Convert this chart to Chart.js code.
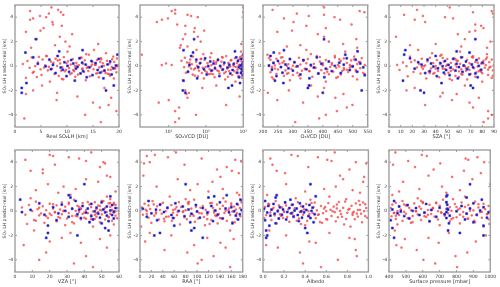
<!DOCTYPE html>
<html>
<head>
<meta charset="utf-8">
<script src="https://cdn.jsdelivr.net/npm/chart.js@4.4.1/dist/chart.umd.min.js"></script>
<style>
  html, body { margin: 0; padding: 0; background: #fff; }
  body { width: 500px; height: 287px; position: relative; overflow: hidden; }
  .panel { position: absolute; }
</style>
</head>
<body>
<div id="grid"></div>
<script>
// ---- data (same samples in every panel, y = predicted - real) ----
const redY = [
  4.8, 4.6, 4.5, 4.4, 4.3, 4.2, 4.1, 4.0, 3.9, 3.8, 3.6, 3.4, 3.3, 3.1, 2.9, 2.8, 2.6, 2.4, 2.2, 2.0, 1.8, 1.7, 1.6, 1.5,
  -1.6, -1.8, -2.0, -2.2, -2.3, -2.5, -2.6, -2.8, -3.0, -3.2, -3.4, -3.7, -4.0, -4.3, -4.6,
  0.93, 0.81, 0.77, 0.72, 0.7, 0.68, 0.64, 0.6, 0.62, 0.57,
  0.53, 0.49, 0.51, 0.46, 0.41, 0.43, 0.38, 0.34, 0.36, 0.31,
  0.29, 0.26, 0.22, 0.24, 0.2, 0.16, 0.18, 0.14, 0.1, 0.12,
  0.08, 0.05, 0.06, 0.02, 0.0, -0.02, -0.04, -0.01, -0.08, -0.06,
  -0.12, -0.1, -0.16, -0.14, -0.2, -0.18, -0.22, -0.27, -0.24, -0.3,
  -0.28, -0.34, -0.32, -0.38, -0.41, -0.36, -0.46, -0.44, -0.52, -0.49,
  -0.55, -0.6, -0.57, -0.65, -0.62, -0.7, -0.74, -0.68, -0.81, -0.85,
  -0.88, -0.93, -0.97, -1.02, -1.1, -1.17, -1.28, 1.04, 1.18, 1.32,
  0.74, 0.66, 0.55, 0.45, 0.33, 0.27, 0.11, 0.03, -0.03, -0.13,
  -0.21, -0.31, -0.39, -0.47, -0.58, -0.67, -0.79, 0.83, 0.69, 0.54,
  0.21, -0.07, -0.17, -0.25, -0.43, -0.63, -0.91, 0.97, -1.06, 0.09
];
const blueY = [
  2.2, 1.3, 1.2, 1.1, -1.2, -1.4, -1.6, -1.8, -2.0, -2.2,
  0.82, 0.71, 0.63, 0.58, 0.49, 0.52, 0.41, 0.37, 0.31, 0.27,
  0.24, 0.18, 0.2, 0.13, 0.09, 0.11, 0.04, 0.01, -0.02, -0.05,
  -0.09, -0.13, -0.11, -0.19, -0.22, -0.26, -0.33, -0.31, -0.42, -0.38,
  -0.48, -0.55, -0.61, -0.58, -0.69, -0.75, -0.83, -0.92, -1.01, 0.93
];

// x values per panel, same order as redY / blueY
const redRealLH = [
  7.0, 8.3, 2.9, 8.8, 6.5, 9.3, 4.8, 6.0, 3.5, 2.9, 7.2, 7.3, 9.0, 5.5, 4.9, 2.1, 11.0, 8.6, 4.2, 9.7, 16.0, 7.7, 10.5, 3.1,
  5.2, 17.2, 3.5, 8.1, 2.1, 12.0, 18.5, 8.0, 15.0, 18.0, 16.3, 19.5, 13.5, 1.8, 16.5,
  14.2, 6.1, 18.9, 9.4, 3.2, 12.7, 16.5, 7.8, 19.6, 11.1,
  5.3, 15.8, 8.6, 13.4, 2.4, 17.7, 10.2, 19.1, 6.9, 14.9,
  4.4, 11.8, 16.9, 9.9, 18.2, 1.5, 13.1, 7.3, 15.4, 10.7,
  19.8, 5.8, 12.3, 17.1, 8.1, 3.9, 14.6, 11.5, 18.6, 6.5,
  16.2, 9.1, 13.8, 2.8, 19.3, 10.4, 7.1, 15.1, 12.9, 17.9,
  4.9, 11.2, 18.4, 8.9, 14.1, 6.3, 16.7, 9.6, 19.5, 13.3,
  3.4, 10.9, 17.4, 7.6, 15.6, 12.1, 5.1, 18.1, 8.4, 14.4,
  11.6, 16.1, 2.1, 19.0, 9.3, 13.6, 6.7, 17.5, 10.1, 15.2,
  4.6, 12.5, 18.7, 8.2, 16.4, 7.4, 14.8, 11.9, 19.7, 5.6,
  13.0, 9.8, 17.2, 3.6, 15.9, 10.6, 18.3, 6.0, 12.8, 16.6,
  8.7, 14.0, 19.2, 7.0, 11.4, 17.8, 4.2, 13.7, 9.0, 15.5
];
const redSO2 = [
  1000, 15, 12, 1000, 15, 32, 40, 60, 9.5, 6.6, 4.8, 17, 28, 50, 90, 48, 28, 60, 24, 72, 890, 21, 32, 20,
  190, 80, 28, 35, 30, 800, 32, 10, 5.4, 350, 19, 15, 54, 19, 15,
  1.9, 350, 45, 820, 130, 27, 600, 75, 960, 210,
  38, 480, 92, 720, 160, 22, 900, 55, 260, 1000,
  31, 400, 110, 680, 68, 950, 185, 42, 540, 300,
  6.5, 760, 140, 58, 880, 240, 35, 450, 98, 640,
  175, 26, 990, 82, 370, 52, 830, 125, 290, 700,
  48, 150, 920, 65, 420, 200, 33, 580, 105, 860,
  29, 310, 78, 980, 230, 44, 510, 120, 750, 61,
  390, 170, 940, 88, 330, 24, 620, 140, 870, 56,
  270, 995, 72, 460, 190, 36, 800, 115, 560, 250,
  40, 930, 95, 340, 660, 155, 50, 910, 280, 780,
  8.5, 430, 62, 970, 220, 135, 740, 85, 1.6, 12
];
const redO3 = [
  404, 232, 523, 539, 313, 404, 353, 439, 270, 458, 302, 496, 345, 410, 297, 248, 383, 404, 512, 420, 468, 325, 280, 515,
  361, 404, 286, 216, 469, 383, 442, 248, 334, 499, 480, 447, 410, 388, 308,
  215, 380, 505, 265, 440, 320, 530, 245, 470, 350,
  290, 410, 225, 495, 335, 460, 270, 520, 390, 305,
  235, 480, 345, 430, 255, 515, 370, 285, 450, 325,
  540, 240, 400, 500, 280, 360, 455, 220, 425, 310,
  490, 260, 375, 445, 230, 525, 340, 415, 295, 470,
  250, 395, 510, 330, 465, 275, 435, 355, 225, 485,
  315, 405, 535, 245, 385, 460, 300, 420, 270, 500,
  365, 230, 445, 325, 515, 290, 410, 255, 475, 345,
  390, 220, 455, 335, 525, 265, 430, 300, 495, 375,
  240, 480, 355, 415, 285, 540, 320, 440, 260, 505,
  400, 230, 470, 340, 510, 280, 450, 360, 235, 490
];
const redSZA = [
  52, 24, 88, 72, 89, 13, 29, 48, 55, 22, 31, 74, 79, 81, 74, 69, 59, 6, 65, 87, 40, 18, 62, 84,
  65, 22, 15, 46, 58, 44, 77, 54, 69, 31, 72, 85, 88, 85, 81,
  45, 72, 18, 63, 84, 35, 56, 28, 77, 50,
  88, 41, 67, 22, 59, 81, 33, 74, 47, 86,
  12, 53, 69, 38, 79, 26, 61, 44, 90, 57,
  71, 31, 83, 49, 65, 15, 76, 40, 58, 87,
  24, 68, 52, 82, 36, 73, 46, 62, 29, 85,
  55, 78, 9, 66, 42, 89, 34, 60, 75, 21,
  51, 80, 39, 70, 27, 63, 85, 48, 57, 16,
  74, 43, 88, 32, 67, 54, 80, 37, 61, 25,
  71, 46, 83, 58, 19, 76, 50, 64, 30, 86,
  40, 69, 53, 79, 35, 62, 89, 44, 72, 57,
  81, 28, 66, 48, 77, 38, 60, 84, 52, 7
];
const redVZA = [
  44, 20, 22, 31, 37, 6, 41, 51, 52, 23, 49, 16, 9, 16, 53, 55, 41, 48, 19, 28, 35, 12, 58, 25,
  11, 32, 55, 27, 49, 20, 38, 5, 53, 60, 18, 41, 14, 34, 45,
  34, 51, 12, 46, 27, 57, 39, 20, 54, 31,
  43, 8, 58, 24, 49, 36, 16, 55, 29, 44,
  4, 52, 33, 59, 22, 47, 38, 13, 56, 26,
  41, 50, 18, 35, 60, 28, 45, 10, 53, 37,
  23, 48, 31, 57, 15, 42, 55, 27, 39, 6,
  50, 21, 44, 58, 33, 14, 47, 36, 54, 25,
  40, 59, 19, 46, 30, 52, 11, 38, 56, 24,
  43, 49, 17, 34, 57, 29, 45, 9, 53, 32,
  42, 55, 22, 48, 37, 14, 51, 28, 58, 40,
  20, 46, 35, 54, 26, 44, 12, 50, 31, 57,
  38, 23, 47, 60, 18, 41, 33, 55, 7, 49
];
const redRAA = [
  63, 26, 12, 49, 108, 167, 177, 17, 7, 78, 152, 135, 161, 173, 6, 141, 66, 127, 101, 29, 145, 88, 120, 170,
  158, 17, 55, 118, 164, 9, 141, 95, 150, 43, 83, 129, 108, 101, 158,
  95, 22, 150, 68, 178, 40, 123, 8, 160, 85,
  135, 55, 172, 15, 110, 145, 30, 98, 165, 72,
  3, 128, 48, 175, 90, 18, 140, 62, 115, 168,
  35, 155, 80, 130, 12, 100, 162, 45, 120, 75,
  180, 28, 148, 58, 108, 170, 38, 92, 138, 5,
  118, 65, 158, 25, 88, 132, 50, 176, 78, 112,
  15, 142, 60, 170, 102, 33, 125, 82, 152, 43,
  96, 166, 20, 136, 70, 114, 2, 146, 52, 174,
  86, 126, 36, 160, 64, 106, 10, 150, 76, 130,
  28, 168, 94, 46, 140, 118, 56, 178, 84, 24,
  156, 66, 104, 12, 134, 42, 162, 80, 122, 58
];
const redAlbedo = [
  0.68, 0.27, 0.33, 0.52, 0.07, 0.61, 0.65, 0.88, 0.98, 0.09, 0.43, 0.82, 0.13, 0.21, 0.73, 0.96, 0.76, 0.95, 0.22, 0.69, 0.58, 0.85, 0.4, 0.92,
  0.06, 0.63, 0.22, 0.82, 0.87, 0.44, 0.5, 0.03, 0.14, 0.88, 0.35, 0.89, 0.71, 0.38, 0.55,
  0.45, 0.12, 0.78, 0.33, 0.95, 0.21, 0.62, 0.05, 0.88, 0.41,
  0.7, 0.27, 0.92, 0.15, 0.55, 0.84, 0.36, 0.02, 0.67, 0.48,
  0.18, 0.76, 0.3, 0.98, 0.58, 0.09, 0.82, 0.39, 0.64, 0.24,
  0.9, 0.51, 0.14, 0.73, 0.43, 0.96, 0.2, 0.6, 0.35, 0.86,
  0.07, 0.68, 0.47, 0.8, 0.26, 0.57, 0.93, 0.16, 0.74, 0.38,
  0.53, 0.03, 0.85, 0.29, 0.65, 0.11, 0.9, 0.44, 0.71, 0.23,
  0.99, 0.5, 0.19, 0.79, 0.34, 0.61, 0.08, 0.87, 0.42, 0.69,
  0.25, 0.94, 0.56, 0.13, 0.77, 0.4, 0.83, 0.31, 0.63, 0.04,
  0.72, 0.46, 0.97, 0.22, 0.59, 0.1, 0.81, 0.37, 0.66, 0.28,
  0.89, 0.52, 0.17, 0.75, 0.01, 0.6, 0.32, 0.91, 0.49, 0.06,
  0.7, 0.2, 0.85, 0.44, 0.97, 0.15, 0.54, 0.79, 0.36, 0.92
];
const redPressure = [
  438, 594, 624, 924, 854, 870, 514, 964, 704, 424, 554, 664, 844, 944, 634, 774, 894, 484, 1000, 714, 580, 820, 460, 740,
  434, 754, 974, 634, 494, 914, 694, 444, 474, 564, 864, 794, 604, 674, 804,
  720, 480, 910, 600, 830, 440, 680, 960, 550, 790,
  420, 870, 640, 510, 990, 700, 460, 850, 580, 760,
  930, 520, 660, 410, 880, 740, 590, 970, 470, 810,
  630, 900, 530, 770, 450, 690, 1000, 560, 840, 490,
  710, 940, 610, 430, 860, 750, 500, 980, 650, 820,
  570, 920, 460, 730, 540, 890, 670, 415, 800, 620,
  950, 510, 780, 440, 870, 690, 590, 990, 480, 760,
  640, 910, 530, 820, 450, 700, 960, 570, 850, 420,
  740, 600, 930, 500, 800, 660, 470, 880, 560, 710,
  985, 630, 440, 840, 520, 770, 905, 590, 680, 490,
  820, 950, 430, 730, 610, 865, 540, 780, 995, 655
];

const blueRealLH = [
  4.0, 13.0, 8.5, 2.0, 11.5, 2.2, 19.0, 1.3, 17.5, 1.3,
  8.2, 3.5, 12.4, 16.1, 10.8, 6.6, 14.7, 18.3, 9.5, 12.9,
  15.5, 4.4, 11.2, 17.8, 7.3, 13.6, 19.4, 10.1, 5.9, 16.7,
  12.0, 8.8, 14.3, 18.9, 11.7, 6.9, 15.9, 9.2, 13.1, 17.2,
  10.4, 16.4, 12.6, 7.8, 18.6, 14.9, 9.9, 13.8, 17.0, 19.7
];
const blueSO2 = [
  48, 25, 600, 45, 25, 820, 500, 400, 24, 28,
  40, 650, 95, 880, 210, 55, 720, 130, 980, 310,
  70, 560, 160, 930, 36, 420, 850, 240, 115, 990,
  62, 380, 760, 175, 900, 88, 520, 280, 950, 140,
  33, 690, 450, 870, 105, 960, 230, 780, 58, 1000
];
const blueO3 = [
  404, 270, 516, 236, 240, 268, 354, 350, 530, 400,
  225, 380, 480, 290, 335, 510, 250, 420, 305, 455,
  235, 395, 525, 275, 360, 470, 220, 440, 315, 500,
  260, 370, 535, 285, 410, 345, 490, 230, 430, 300,
  515, 265, 385, 460, 325, 540, 245, 405, 355, 475
];
const blueSZA = [
  74, 14, 58, 69, 12, 45, 70, 72, 27, 30,
  40, 62, 18, 55, 75, 33, 48, 66, 25, 80,
  44, 58, 36, 71, 51, 28, 64, 77, 46, 38,
  60, 53, 72, 42, 22, 67, 49, 79, 35, 57,
  63, 47, 74, 31, 69, 52, 41, 76, 59, 13
];
const blueVZA = [
  40, 31, 55, 32, 19, 52, 54, 19, 36, 18,
  35, 50, 14, 44, 56, 27, 39, 53, 22, 47,
  58, 33, 42, 51, 9, 37, 55, 29, 46, 57,
  4, 41, 52, 25, 48, 36, 56, 17, 44, 53,
  31, 49, 57, 38, 45, 24, 54, 43, 50, 3
];
const blueRAA = [
  80, 152, 130, 120, 60, 95, 90, 35, 25, 110,
  15, 140, 62, 170, 98, 35, 125, 75, 160, 48,
  110, 5, 150, 85, 178, 28, 132, 68, 165, 100,
  42, 118, 156, 20, 90, 175, 55, 136, 78, 168,
  12, 105, 145, 58, 172, 30, 128, 88, 162, 176
];
const blueAlbedo = [
  0.45, 0.13, 0.5, 0.12, 0.06, 0.4, 0.03, 0.42, 0.04, 0.03,
  0.02, 0.21, 0.35, 0.1, 0.44, 0.28, 0.05, 0.38, 0.16, 0.47,
  0.25, 0.01, 0.32, 0.19, 0.41, 0.08, 0.3, 0.46, 0.14, 0.36,
  0.23, 0.04, 0.39, 0.27, 0.11, 0.49, 0.33, 0.18, 0.43, 0.07,
  0.29, 0.37, 0.15, 0.45, 0.22, 0.02, 0.34, 0.48, 0.12, 0.26
];
const bluePressure = [
  880, 745, 740, 860, 960, 420, 750, 820, 960, 430,
  430, 740, 900, 620, 510, 745, 830, 460, 960, 700,
  560, 745, 880, 420, 650, 750, 940, 540, 800, 470,
  740, 610, 990, 450, 860, 730, 580, 920, 490, 760,
  680, 980, 520, 740, 850, 410, 640, 900, 755, 950
];

// tick labels
const yTicks = [-4, -2, 0, 2, 4];
const ticksRealLH = [0, 5, 10, 15, 20];
const ticksSO2 = [10, 100, 1000];
const ticksO3 = [200, 250, 300, 350, 400, 450, 500, 550];
const ticksSZA = [0, 10, 20, 30, 40, 50, 60, 70, 80, 90];
const ticksVZA = [0, 10, 20, 30, 40, 50, 60];
const ticksRAA = [0, 20, 40, 60, 80, 100, 120, 140, 160, 180];
const ticksAlbedo = [0, 0.2, 0.4, 0.6, 0.8, 1.0];
const ticksPressure = [400, 500, 600, 700, 800, 900, 1000];

const yTitle = "SO\u2082 LH predict-real [km]";

// plot areas [x0, x1, y0, y1]
const panels = [
  { title: "Real SO\u2082LH [km]", red: redRealLH, blue: blueRealLH, min: 0, max: 20, ticks: ticksRealLH, area: [15, 119, 5, 127] },
  { title: "SO\u2082VCD [DU]", red: redSO2, blue: blueSO2, min: 1.7, max: 1000, ticks: ticksSO2, log: true, area: [140, 244, 5, 127] },
  { title: "O\u2083VCD [DU]", red: redO3, blue: blueO3, min: 200, max: 550, ticks: ticksO3, area: [263, 369, 5, 127] },
  { title: "SZA [\u00b0]", red: redSZA, blue: blueSZA, min: 0, max: 90, ticks: ticksSZA, area: [389, 494, 5, 127] },
  { title: "VZA [\u00b0]", red: redVZA, blue: blueVZA, min: 0, max: 60, ticks: ticksVZA, area: [15, 119, 150, 272] },
  { title: "RAA [\u00b0]", red: redRAA, blue: blueRAA, min: 0, max: 180, ticks: ticksRAA, area: [140, 244, 150, 272] },
  { title: "Albedo", red: redAlbedo, blue: blueAlbedo, min: 0, max: 1, ticks: ticksAlbedo, fixed: 1, area: [263, 369, 150, 272] },
  { title: "Surface pressure [mbar]", red: redPressure, blue: bluePressure, min: 400, max: 1000, ticks: ticksPressure, area: [389, 493, 150, 272] },
];

const supers = { 1: "\u00b9", 2: "\u00b2", 3: "\u00b3" };
const FONT = "'DejaVu Sans', sans-serif";
const LEFT = 15, BOTTOM = 15, PAD = 5;

// frame + small inward ticks, like the matplotlib boxes
const framePlugin = {
  id: "frame",
  afterDraw(chart) {
    const { ctx, chartArea: a, scales } = chart;
    ctx.save();
    ctx.strokeStyle = "#555";
    ctx.lineWidth = 0.6;
    ctx.beginPath();
    scales.x.ticks.forEach((t) => {
      const px = scales.x.getPixelForValue(t.value);
      ctx.moveTo(px, a.bottom); ctx.lineTo(px, a.bottom - 2);
      ctx.moveTo(px, a.top); ctx.lineTo(px, a.top + 2);
    });
    scales.y.ticks.forEach((t) => {
      const py = scales.y.getPixelForValue(t.value);
      ctx.moveTo(a.left, py); ctx.lineTo(a.left + 2, py);
      ctx.moveTo(a.right, py); ctx.lineTo(a.right - 2, py);
    });
    ctx.stroke();
    ctx.strokeStyle = "#a0a0a0";
    ctx.lineWidth = 1.4;
    ctx.strokeRect(a.left, a.top, a.right - a.left, a.bottom - a.top);
    ctx.restore();
  },
};

const grid = document.getElementById("grid");

panels.forEach((p) => {
  const [x0, x1, y0, y1] = p.area;
  const w = x1 - x0 + LEFT + PAD;
  const h = y1 - y0 + BOTTOM + PAD;
  const div = document.createElement("div");
  div.className = "panel";
  div.style.left = x0 - LEFT + "px";
  div.style.top = y0 - PAD + "px";
  div.style.width = w + "px";
  div.style.height = h + "px";
  const canvas = document.createElement("canvas");
  canvas.width = w;
  canvas.height = h;
  div.appendChild(canvas);
  grid.appendChild(div);

  const blueData = p.blue.map((x, i) => ({ x: x, y: blueY[i] }));
  const redData = p.red.map((x, i) => ({ x: x, y: redY[i] }));

  new Chart(canvas, {
    type: "scatter",
    data: {
      datasets: [
        {
          data: blueData,
          pointStyle: "rect",
          pointRadius: 1.4,
          backgroundColor: "#10107a",
          borderColor: "#3535ff",
          borderWidth: 0.6,
          order: 0,
        },
        {
          data: redData,
          pointStyle: "rect",
          pointRadius: 1.05,
          backgroundColor: "rgba(255,160,160,0.85)",
          borderColor: "rgba(240,0,0,0.9)",
          borderWidth: 0.5,
          order: 1,
        },
      ],
    },
    plugins: [framePlugin],
    options: {
      responsive: false,
      devicePixelRatio: 1,
      animation: false,
      layout: { padding: { top: PAD, right: PAD, left: 0, bottom: 0 } },
      plugins: { legend: { display: false }, tooltip: { enabled: false } },
      scales: {
        x: {
          type: p.log ? "logarithmic" : "linear",
          min: p.min,
          max: p.max,
          grid: { display: false, drawTicks: false },
          border: { display: false },
          afterBuildTicks: (scale) => {
            scale.ticks = p.ticks.map((v) => ({ value: v }));
          },
          afterFit: (scale) => {
            scale.height = BOTTOM;
          },
          ticks: {
            autoSkip: false,
            maxRotation: 0,
            padding: 2,
            color: "#333",
            font: { family: FONT, size: 4.5 },
            callback: (v) => {
              if (p.log) return "10" + supers[Math.round(Math.log10(v))];
              return p.fixed ? Number(v).toFixed(p.fixed) : v;
            },
          },
          title: {
            display: true,
            text: p.title,
            color: "#333",
            padding: { top: 0, bottom: 2 },
            font: { family: FONT, size: 5 },
          },
        },
        y: {
          min: -5,
          max: 5,
          grid: { display: false, drawTicks: false },
          border: { display: false },
          afterBuildTicks: (scale) => {
            scale.ticks = yTicks.map((v) => ({ value: v }));
          },
          afterFit: (scale) => {
            scale.width = LEFT;
          },
          ticks: {
            padding: 2,
            color: "#333",
            font: { family: FONT, size: 4.5 },
          },
          title: {
            display: true,
            text: yTitle,
            color: "#333",
            padding: { top: 2, bottom: 0 },
            font: { family: FONT, size: 4.5 },
          },
        },
      },
    },
  });
});
</script>
</body>
</html>
